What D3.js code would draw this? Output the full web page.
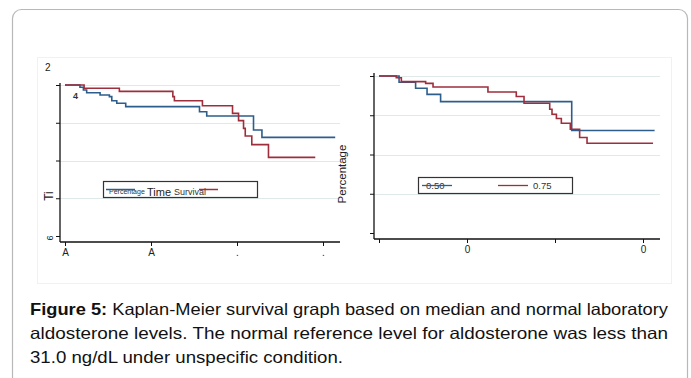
<!DOCTYPE html>
<html><head><meta charset="utf-8">
<script src="https://cdn.jsdelivr.net/npm/d3@7"></script>
<style>html,body{margin:0;padding:0;background:#fff;}svg{display:block;}</style>
</head><body>
<script>
// ---- Data ----
const xTicks = [0, 50, 100, 150];
const yTicks = [0, 0.25, 0.5, 0.75, 1];
const leftXTickLabels = ["A", "A", ".", "."];
const rightXTickLabels = ["", "0", "", "0"];

// Left panel curves (time, survival)
const leftBlueTime = [0, 8.7, 10.7, 12.6, 20.4, 25.8, 27.2, 30.1, 35.3, 78.2, 82.4, 109.6, 114.5, 157.1];
const leftBlueSurv = [1, 0.985, 0.967, 0.949, 0.934, 0.923, 0.896, 0.879, 0.857, 0.823, 0.795, 0.702, 0.653, 0.653];
const leftRedTime = [0, 11.1, 31.6, 62.7, 63.6, 79.9, 97.4, 100.9, 103.8, 104.8, 108.6, 118.3, 145.5];
const leftRedSurv = [1, 0.978, 0.958, 0.923, 0.896, 0.863, 0.812, 0.764, 0.713, 0.662, 0.605, 0.521, 0.521];

// Right panel curves
const rightBlueTime = [0, 11.4, 20.8, 27.3, 35.0, 109.5, 156.6];
const rightBlueSurv = [1, 0.960, 0.922, 0.883, 0.837, 0.653, 0.653];
const rightRedTime = [0, 9.8, 12.7, 26.5, 30.7, 61.9, 78.0, 82.4, 97.0, 98.3, 100.8, 103.6, 108.7, 114.0, 118.2, 155.7];
const rightRedSurv = [1, 0.989, 0.964, 0.953, 0.930, 0.898, 0.869, 0.826, 0.788, 0.756, 0.729, 0.699, 0.661, 0.608, 0.572, 0.572];

const leftLegendTexts = ["Percentage", "Time", "Survival"];
const rightLegendTexts = ["0.50", "0.75"];
const captionBold = "Figure 5:";
const captionLines = [
  " Kaplan-Meier survival graph based on median and normal laboratory",
  "aldosterone levels. The normal reference level for aldosterone was less than",
  "31.0 ng/dL under unspecific condition."
];

const BLUE = "#2c5d8b", RED = "#9e2e3c", GRID = "#dfe9ea";

const svg = d3.select("body").append("svg").attr("width", 691).attr("height", 378);

// outer rounded frame
svg.append("rect").attr("x", 12.5).attr("y", 9.5).attr("width", 675).attr("height", 380)
  .attr("rx", 9).attr("fill", "#fff").attr("stroke", "#b8b8b8").attr("stroke-width", 1.2);
// faint image frame
svg.append("rect").attr("x", 37.5).attr("y", 57.5).attr("width", 634).attr("height", 226)
  .attr("fill", "none").attr("stroke", "#f1f1f1");

function toPts(t, s) { return t.map((d, i) => [d, s[i]]); }

function panel(cfg) {
  const x = d3.scaleLinear().domain([0, 150]).range(cfg.xr);
  const y = d3.scaleLinear().domain([0, 1]).range(cfg.yr);
  const g = svg.append("g");
  // grid
  g.selectAll(".grid").data(yTicks.slice(1)).join("line")
    .attr("x1", cfg.axX).attr("x2", cfg.gridEnd)
    .attr("y1", d => Math.round(y(d)) + 0.5).attr("y2", d => Math.round(y(d)) + 0.5)
    .attr("stroke", GRID).attr("stroke-width", 1.2);
  // y axis
  const ya = g.append("g").attr("transform", `translate(${cfg.axX},0)`)
    .call(d3.axisLeft(y).tickValues(yTicks).tickSize(4).tickFormat(""));
  ya.select(".domain").attr("d", `M0,${cfg.axTop}V${cfg.axY}`).attr("stroke", "#111").attr("stroke-width", 1.3);
  ya.selectAll(".tick line").attr("stroke", "#111");
  // x axis
  const xa = g.append("g").attr("transform", `translate(0,${cfg.axY})`)
    .call(d3.axisBottom(x).tickValues(xTicks).tickSize(4).tickPadding(3)
      .tickFormat((d, i) => cfg.xLabels[i]));
  xa.select(".domain").attr("d", `M${cfg.axX},0H${cfg.gridEnd}`).attr("stroke", "#111").attr("stroke-width", 1.3);
  xa.selectAll(".tick line").attr("stroke", "#111");
  xa.selectAll(".tick text").attr("font-family", "Liberation Sans, Arial, sans-serif")
    .attr("font-size", 10).attr("fill", "#222");
  // curves
  const line = d3.line().x(d => x(d[0])).y(d => y(d[1])).curve(d3.curveStepAfter);
  cfg.curves.forEach(c => {
    g.append("path").datum(toPts(c.t, c.s)).attr("d", line)
      .attr("fill", "none").attr("stroke", c.color).attr("stroke-width", 1.6);
  });
  return { x, y, g };
}

const L = panel({
  xr: [65, 323], yr: [236, 85], axX: 60, axY: 242, axTop: 83, gridEnd: 340,
  xLabels: leftXTickLabels,
  curves: [
    { t: leftBlueTime, s: leftBlueSurv, color: BLUE },
    { t: leftRedTime, s: leftRedSurv, color: RED }
  ]
});
const R = panel({
  xr: [379, 643], yr: [233, 76], axX: 374, axY: 239, axTop: 73, gridEnd: 660,
  xLabels: rightXTickLabels,
  curves: [
    { t: rightBlueTime, s: rightBlueSurv, color: BLUE },
    { t: rightRedTime, s: rightRedSurv, color: RED }
  ]
});

const F = "Liberation Sans, Arial, sans-serif";
// odd left labels
svg.append("text").attr("x", 45).attr("y", 71).attr("font-family", F).attr("font-size", 10).attr("fill", "#222").text("2");
svg.append("text").attr("x", 73).attr("y", 99).attr("font-family", F).attr("font-size", 9).attr("font-weight", "bold").attr("fill", "#333").text("4");
svg.append("text").attr("transform", "translate(53,196) rotate(-90)").attr("text-anchor", "middle")
  .attr("font-family", F).attr("font-size", 12).attr("fill", "#222").text("Ti");
svg.append("text").attr("transform", "translate(53,238) rotate(-90)").attr("text-anchor", "middle")
  .attr("font-family", F).attr("font-size", 9).attr("fill", "#222").text("6");
// right y title
svg.append("text").attr("transform", "translate(346,174) rotate(-90)").attr("text-anchor", "middle")
  .attr("font-family", F).attr("font-size", 11.5).attr("fill", "#222").text("Percentage");

// left legend
svg.append("rect").attr("x", 103.5).attr("y", 181.5).attr("width", 154).attr("height", 16)
  .attr("fill", "#fff").attr("stroke", "#333").attr("stroke-width", 1.2);
svg.append("text").attr("x", 109).attr("y", 194).attr("font-family", F).attr("font-size", 7).attr("fill", "#333")
  .text(leftLegendTexts[0]);
svg.append("text").attr("x", 174).attr("y", 194.5).attr("font-family", F).attr("font-size", 9).attr("fill", "#333")
  .text(leftLegendTexts[2]);
svg.append("line").attr("x1", 106).attr("x2", 135).attr("y1", 189.5).attr("y2", 189.5).attr("stroke", BLUE).attr("stroke-width", 1.5);
svg.append("line").attr("x1", 199).attr("x2", 218).attr("y1", 189.5).attr("y2", 189.5).attr("stroke", RED).attr("stroke-width", 1.5);
svg.append("text").attr("x", 147).attr("y", 196).attr("font-family", F).attr("font-size", 11).attr("fill", "#222")
  .text(leftLegendTexts[1]);

// right legend
svg.append("rect").attr("x", 418.5).attr("y", 177.5).attr("width", 154).attr("height", 16)
  .attr("fill", "#fff").attr("stroke", "#333").attr("stroke-width", 1.2);
svg.append("text").attr("x", 426).attr("y", 189).attr("font-family", F).attr("font-size", 9.5).attr("fill", "#333").text(rightLegendTexts[0]);
svg.append("line").attr("x1", 422).attr("x2", 452).attr("y1", 185.5).attr("y2", 185.5).attr("stroke", BLUE).attr("stroke-width", 1.3);
svg.append("line").attr("x1", 498).attr("x2", 528).attr("y1", 185.5).attr("y2", 185.5).attr("stroke", RED).attr("stroke-width", 1.3);
svg.append("text").attr("x", 533).attr("y", 189).attr("font-family", F).attr("font-size", 9.5).attr("fill", "#333").text(rightLegendTexts[1]);

// caption
const CF = "Liberation Sans Narrow, Liberation Sans, Arial, sans-serif";
const cap = svg.append("text").attr("x", 30).attr("y", 315).attr("font-family", CF).attr("font-size", 16.5).attr("fill", "#111")
  .attr("textLength", 638).attr("lengthAdjust", "spacingAndGlyphs");
cap.append("tspan").attr("font-weight", "bold").text(captionBold);
cap.append("tspan").text(captionLines[0]);
svg.append("text").attr("x", 30).attr("y", 339).attr("font-family", CF).attr("font-size", 16.5).attr("fill", "#111")
  .attr("textLength", 638).attr("lengthAdjust", "spacingAndGlyphs").text(captionLines[1]);
svg.append("text").attr("x", 30).attr("y", 363).attr("font-family", CF).attr("font-size", 16.5).attr("fill", "#111")
  .attr("textLength", 313).attr("lengthAdjust", "spacingAndGlyphs").text(captionLines[2]);
</script>
</body></html>
